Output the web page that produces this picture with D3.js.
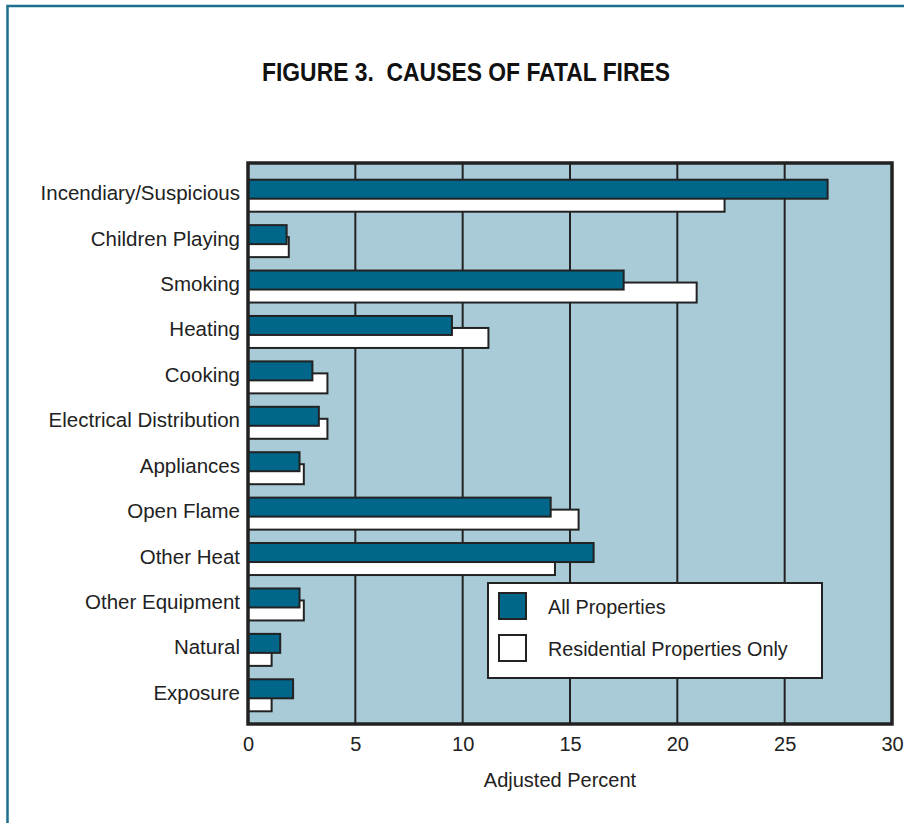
<!DOCTYPE html>
<html>
<head>
<meta charset="utf-8">
<script src="https://cdn.jsdelivr.net/npm/d3@7"></script>
<style>
  body { margin: 0; background: #fff; }
  svg { display: block; }
</style>
</head>
<body>
<svg id="chart"></svg>
<script>
// chart data
const causes = ["Incendiary/Suspicious", "Children Playing", "Smoking", "Heating", "Cooking",
  "Electrical Distribution", "Appliances", "Open Flame", "Other Heat", "Other Equipment",
  "Natural", "Exposure"];
const allProperties = [27.0, 1.8, 17.5, 9.5, 3.0, 3.3, 2.4, 14.1, 16.1, 2.4, 1.5, 2.1];
const residentialOnly = [22.2, 1.9, 20.9, 11.2, 3.7, 3.7, 2.6, 15.4, 14.3, 2.6, 1.1, 1.1];
const xTicks = [0, 5, 10, 15, 20, 25, 30];
const seriesNames = ["All Properties", "Residential Properties Only"];

const width = 904, height = 823;
const plot = { left: 248, right: 892, top: 163, bottom: 724 };
const dark = "#00668a", ink = "#222";
const font = "'Liberation Sans', Arial, sans-serif";

const svg = d3.select("#chart")
  .attr("width", width)
  .attr("height", height)
  .style("font-family", font);

// outer page frame
svg.append("rect")
  .attr("x", 7.5).attr("y", 6)
  .attr("width", width + 20).attr("height", height + 20)
  .attr("fill", "none")
  .attr("stroke", "#1d6f8e")
  .attr("stroke-width", 2.5);

svg.append("text")
  .attr("x", 262).attr("y", 81)
  .attr("textLength", 408)
  .attr("lengthAdjust", "spacingAndGlyphs")
  .style("white-space", "pre")
  .style("font-size", "26px")
  .style("font-weight", "bold")
  .attr("fill", "#111")
  .text("FIGURE 3.  CAUSES OF FATAL FIRES");

const x = d3.scaleLinear()
  .domain([0, 30])
  .range([plot.left, plot.right]);

const y = d3.scaleBand()
  .domain(causes)
  .range([173, 718]);

// plot background
svg.append("rect")
  .attr("x", plot.left).attr("y", plot.top)
  .attr("width", plot.right - plot.left)
  .attr("height", plot.bottom - plot.top)
  .attr("fill", "#a8cbd7");

// grid lines
svg.append("g")
  .selectAll("line")
  .data(xTicks.slice(1, -1))
  .join("line")
  .attr("x1", d => x(d)).attr("x2", d => x(d))
  .attr("y1", plot.top).attr("y2", plot.bottom)
  .attr("stroke", ink)
  .attr("stroke-width", 2);

// bars: white behind, dark on top
const groups = svg.append("g")
  .selectAll("g")
  .data(causes)
  .join("g")
  .attr("transform", d => `translate(0,${y(d) + y.bandwidth() / 2})`);

groups.append("rect")
  .attr("x", x(0))
  .attr("y", -4)
  .attr("width", (d, i) => x(residentialOnly[i]) - x(0))
  .attr("height", 20)
  .attr("fill", "#fff")
  .attr("stroke", ink)
  .attr("stroke-width", 2);

groups.append("rect")
  .attr("x", x(0))
  .attr("y", -16)
  .attr("width", (d, i) => x(allProperties[i]) - x(0))
  .attr("height", 19)
  .attr("fill", dark)
  .attr("stroke", ink)
  .attr("stroke-width", 2);

// plot frame
svg.append("rect")
  .attr("x", plot.left).attr("y", plot.top)
  .attr("width", plot.right - plot.left)
  .attr("height", plot.bottom - plot.top)
  .attr("fill", "none")
  .attr("stroke", ink)
  .attr("stroke-width", 3.5);

// category labels
const yAxis = svg.append("g")
  .attr("transform", `translate(${plot.left - 8},0)`)
  .call(d3.axisLeft(y).tickSize(0).tickPadding(0));
yAxis.select(".domain").remove();
yAxis.selectAll("text")
  .attr("dy", "0.22em")
  .style("font-family", font)
  .style("font-size", "20.5px")
  .attr("fill", "#222");

// x axis labels
const xAxis = svg.append("g")
  .attr("transform", `translate(0,${plot.bottom})`)
  .call(d3.axisBottom(x).tickValues(xTicks).tickSize(0).tickPadding(13));
xAxis.select(".domain").remove();
xAxis.selectAll("text")
  .style("font-family", font)
  .style("font-size", "20px")
  .attr("fill", "#222");

svg.append("text")
  .attr("x", 560).attr("y", 787)
  .attr("text-anchor", "middle")
  .style("font-size", "20px")
  .attr("fill", "#222")
  .text("Adjusted Percent");

// legend
const legend = svg.append("g").attr("transform", "translate(488,583)");
legend.append("rect")
  .attr("width", 334).attr("height", 95)
  .attr("fill", "#fff")
  .attr("stroke", ink)
  .attr("stroke-width", 2);

const items = legend.selectAll("g.item")
  .data(seriesNames)
  .join("g")
  .attr("class", "item")
  .attr("transform", (d, i) => `translate(11,${10 + i * 42})`);

items.append("rect")
  .attr("width", 27).attr("height", 26)
  .attr("fill", (d, i) => i === 0 ? dark : "#fff")
  .attr("stroke", ink)
  .attr("stroke-width", 2);

items.append("text")
  .attr("x", 49).attr("y", 21)
  .style("font-size", "19.8px")
  .attr("fill", "#222")
  .text(d => d);
</script>
</body>
</html>
